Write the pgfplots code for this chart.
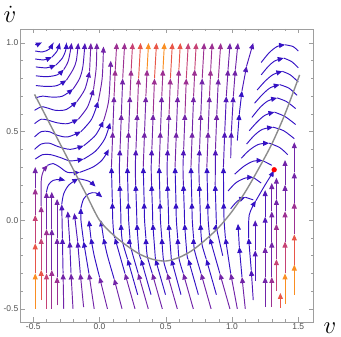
\documentclass[border=0pt]{standalone}
\usepackage{fontspec}
\setmainfont{Liberation Sans}
\usepackage{pgfplots}
\pgfplotsset{compat=1.18}
\usetikzlibrary{arrows.meta}

% speed colours, slow -> fast
\definecolor{sA}{RGB}{52,18,196}
\definecolor{sB}{RGB}{80,24,186}
\definecolor{sC}{RGB}{114,36,168}
\definecolor{sD}{RGB}{156,48,146}
\definecolor{sE}{RGB}{198,66,116}
\definecolor{sF}{RGB}{232,86,72}
\definecolor{sG}{RGB}{250,142,34}

% every streamline piece ends in an arrow head; "sn" pieces have none
\pgfplotsset{
  sl/.style={line width=0.95pt, smooth, -{Triangle[length=6pt,width=5pt]}},
  sn/.style={line width=0.95pt, smooth},
}

\begin{document}
\begin{tikzpicture}
\begin{axis}[
  scale only axis, width=293bp, height=293bp,
  xmin=-0.6, xmax=1.611, ymin=-0.574, ymax=1.079,
  xtick={-0.5,0,0.5,1,1.5}, xticklabels={-0.5,0.0,0.5,1.0,1.5},
  ytick={-0.5,0,0.5,1}, yticklabels={-0.5,0.0,0.5,1.0},
  minor tick num=4,
  tick align=inside,
  major tick length=4.5bp, minor tick length=2.5bp,
  axis line style={black!38, line width=0.6pt},
  every tick/.style={black!38, line width=0.5pt},
  tick label style={font=\fontsize{8.5bp}{10bp}\selectfont, text=black!68},
  xticklabel style={inner sep=1.5pt},
  yticklabel style={inner sep=1.5pt},
]

% ---- top-left fan
\addplot[sl,sA] coordinates {(-0.485,0.99)(-0.46,0.995)(-0.435,1.003)};
\addplot[sl,sA] coordinates {(-0.485,0.955)(-0.43,0.95)(-0.38,0.965)(-0.35,1.0)};
\addplot[sl,sA] coordinates {(-0.485,0.91)(-0.42,0.905)(-0.36,0.92)};
\addplot[sl,sA] coordinates {(-0.36,0.92)(-0.32,0.955)(-0.30,1.0)};
\addplot[sl,sA] coordinates {(-0.48,0.865)(-0.40,0.86)(-0.33,0.875)};
\addplot[sl,sA] coordinates {(-0.33,0.875)(-0.28,0.915)(-0.255,0.96)(-0.25,1.0)};
\addplot[sl,sA] coordinates {(-0.48,0.815)(-0.40,0.81)(-0.32,0.82)(-0.27,0.85)};
\addplot[sl,sB] coordinates {(-0.27,0.85)(-0.235,0.9)(-0.21,1.0)};
\addplot[sl,sA] coordinates {(-0.48,0.76)(-0.40,0.755)(-0.32,0.76)(-0.25,0.79)};
\addplot[sl,sB] coordinates {(-0.25,0.79)(-0.20,0.85)(-0.175,0.9)(-0.16,1.0)};
\addplot[sl,sA] coordinates {(-0.485,0.69)(-0.43,0.70)(-0.36,0.695)(-0.28,0.70)(-0.20,0.74)};
\addplot[sl,sB] coordinates {(-0.20,0.74)(-0.15,0.80)(-0.125,0.87)(-0.11,1.0)};
\addplot[sl,sA] coordinates {(-0.49,0.62)(-0.44,0.64)(-0.40,0.635)(-0.33,0.62)(-0.25,0.625)(-0.17,0.67)};
\addplot[sl,sB] coordinates {(-0.17,0.67)(-0.11,0.74)(-0.075,0.84)};
\addplot[sl,sC] coordinates {(-0.075,0.84)(-0.065,1.0)};
\addplot[sl,sA] coordinates {(-0.49,0.545)(-0.44,0.57)(-0.39,0.565)(-0.32,0.55)(-0.24,0.545)(-0.16,0.57)};
\addplot[sl,sB] coordinates {(-0.16,0.57)(-0.09,0.64)(-0.045,0.74)};
\addplot[sl,sC] coordinates {(-0.045,0.74)(-0.025,0.86)(-0.02,1.0)};
\addplot[sl,sA] coordinates {(-0.49,0.47)(-0.44,0.50)(-0.38,0.50)(-0.32,0.48)(-0.24,0.47)(-0.14,0.50)};
\addplot[sl,sA] coordinates {(-0.14,0.50)(-0.06,0.57)(-0.01,0.67)};
\addplot[sl,sC] coordinates {(-0.01,0.67)(0.02,0.80)(0.03,0.98)};
\addplot[sl,sA] coordinates {(-0.49,0.40)(-0.44,0.43)(-0.38,0.435)(-0.31,0.415)(-0.22,0.40)(-0.12,0.42)};
\addplot[sl,sA] coordinates {(-0.12,0.42)(-0.03,0.48)(0.03,0.56)};
\addplot[sl,sC] coordinates {(0.03,0.56)(0.07,0.68)(0.085,0.90)};
\addplot[sl,sA] coordinates {(-0.485,0.345)(-0.43,0.37)(-0.37,0.37)(-0.30,0.355)(-0.22,0.335)(-0.12,0.345)};
\addplot[sl,sA] coordinates {(-0.12,0.345)(-0.03,0.39)(0.04,0.46)(0.08,0.55)};

% ---- left vertical lines and their arcs
\addplot[sl,sG] coordinates {(-0.485,-0.5)(-0.485,-0.3)};
\addplot[sl,sF] coordinates {(-0.485,-0.3)(-0.485,-0.13)};
\addplot[sl,sE] coordinates {(-0.485,-0.13)(-0.485,0.03)};
\addplot[sl,sD] coordinates {(-0.485,0.03)(-0.485,0.18)};
\addplot[sl,sC] coordinates {(-0.485,0.18)(-0.485,0.30)};
\addplot[sl,sF] coordinates {(-0.44,-0.45)(-0.44,-0.28)};
\addplot[sl,sE] coordinates {(-0.44,-0.28)(-0.44,-0.1)};
\addplot[sl,sD] coordinates {(-0.44,-0.1)(-0.44,0.08)};
\addplot[sl,sC] coordinates {(-0.44,0.08)(-0.44,0.22)(-0.425,0.275)(-0.39,0.31)};
\addplot[sl,sA] coordinates {(-0.39,0.31)(-0.35,0.32)(-0.30,0.30)(-0.24,0.27)(-0.15,0.27)};
\addplot[sl,sA] coordinates {(-0.15,0.27)(-0.05,0.30)(0.02,0.34)(0.07,0.40)};
\addplot[sl,sE] coordinates {(-0.40,-0.5)(-0.40,-0.3)};
\addplot[sl,sD] coordinates {(-0.40,-0.3)(-0.40,-0.05)};
\addplot[sl,sC] coordinates {(-0.40,-0.05)(-0.40,0.16)};
\addplot[sl,sA] coordinates {(-0.40,0.16)(-0.385,0.2)(-0.35,0.225)(-0.30,0.23)(-0.26,0.225)};
\addplot[sl,sD] coordinates {(-0.36,-0.5)(-0.36,-0.28)};
\addplot[sl,sC] coordinates {(-0.36,-0.28)(-0.36,-0.05)};
\addplot[sl,sC] coordinates {(-0.36,-0.05)(-0.36,0.16)};
\addplot[sl,sD] coordinates {(-0.32,-0.48)(-0.32,-0.32)};
\addplot[sl,sC] coordinates {(-0.32,-0.32)(-0.32,-0.1)};
\addplot[sl,sC] coordinates {(-0.32,-0.1)(-0.32,0.12)};
\addplot[sl,sC] coordinates {(-0.27,-0.5)(-0.275,-0.3)};
\addplot[sl,sB] coordinates {(-0.275,-0.3)(-0.28,-0.1)};
\addplot[sl,sB] coordinates {(-0.28,-0.1)(-0.285,0.09)};
\addplot[sl,sA] coordinates {(-0.285,0.09)(-0.27,0.15)(-0.23,0.2)(-0.16,0.235)};
\addplot[sl,sA] coordinates {(-0.16,0.235)(-0.08,0.22)(-0.03,0.19)};
\addplot[sl,sC] coordinates {(-0.20,-0.5)(-0.215,-0.3)};
\addplot[sl,sB] coordinates {(-0.215,-0.3)(-0.225,-0.12)};
\addplot[sl,sB] coordinates {(-0.225,-0.12)(-0.24,0.05)};
\addplot[sl,sC] coordinates {(-0.12,-0.49)(-0.145,-0.3)};
\addplot[sl,sB] coordinates {(-0.145,-0.3)(-0.165,-0.12)};
\addplot[sl,sB] coordinates {(-0.165,-0.12)(-0.19,0.04)};
\addplot[sl,sC] coordinates {(-0.04,-0.5)(-0.08,-0.3)};
\addplot[sl,sA] coordinates {(-0.08,-0.3)(-0.12,-0.12)};
\addplot[sl,sA] coordinates {(-0.12,-0.12)(-0.14,0.0)(-0.14,0.07)};
\addplot[sl,sA] coordinates {(-0.14,0.07)(-0.12,0.12)(-0.08,0.15)(-0.03,0.155)(0.02,0.13)};
\addplot[sl,sC] coordinates {(0.06,-0.5)(0.0,-0.32)};
\addplot[sl,sA] coordinates {(0.0,-0.32)(-0.04,-0.2)(-0.065,-0.1)};
\addplot[sl,sA] coordinates {(-0.065,-0.1)(-0.08,0.0)};
\addplot[sl,sC] coordinates {(0.17,-0.5)(0.11,-0.33)};
\addplot[sl,sA] coordinates {(0.11,-0.33)(0.06,-0.2)(0.03,-0.1)};
\addplot[sl,sA] coordinates {(0.03,-0.1)(0.01,0.0)};

% ---- middle lines, full height
\addplot[sl,sC] coordinates {(0.268,-0.5)(0.192,-0.3)};
\addplot[sl,sA] coordinates {(0.192,-0.3)(0.116,-0.1)};
\addplot[sl,sA] coordinates {(0.116,-0.1)(0.108,-0.08)(0.10,0)(0.097,0.1)};
\addplot[sl,sA] coordinates {(0.097,0.1)(0.09,0.3)};
\addplot[sl,sC] coordinates {(0.09,0.3)(0.10,0.5)};
\addplot[sl,sC] coordinates {(0.10,0.5)(0.11,0.7)};
\addplot[sl,sD] coordinates {(0.11,0.7)(0.119,0.85)};
\addplot[sl,sD] coordinates {(0.119,0.85)(0.13,1.0)};

\addplot[sl,sC] coordinates {(0.368,-0.5)(0.292,-0.3)};
\addplot[sl,sA] coordinates {(0.292,-0.3)(0.235,-0.15)(0.23,-0.1)};
\addplot[sl,sA] coordinates {(0.23,-0.1)(0.22,0)(0.217,0.1)};
\addplot[sl,sA] coordinates {(0.217,0.1)(0.21,0.3)};
\addplot[sl,sC] coordinates {(0.21,0.3)(0.22,0.5)};
\addplot[sl,sC] coordinates {(0.22,0.5)(0.23,0.7)};
\addplot[sl,sD] coordinates {(0.23,0.7)(0.239,0.85)};
\addplot[sl,sE] coordinates {(0.239,0.85)(0.25,1.0)};

\addplot[sl,sC] coordinates {(0.474,-0.5)(0.398,-0.3)};
\addplot[sl,sA] coordinates {(0.398,-0.3)(0.36,-0.2)(0.35,-0.1)};
\addplot[sl,sA] coordinates {(0.35,-0.1)(0.34,0)(0.337,0.1)};
\addplot[sl,sA] coordinates {(0.337,0.1)(0.33,0.3)};
\addplot[sl,sC] coordinates {(0.33,0.3)(0.34,0.5)};
\addplot[sl,sC] coordinates {(0.34,0.5)(0.35,0.7)};
\addplot[sl,sD] coordinates {(0.35,0.7)(0.359,0.85)};
\addplot[sl,sG] coordinates {(0.359,0.85)(0.37,1.0)};

\addplot[sl,sC] coordinates {(0.587,-0.5)(0.511,-0.3)};
\addplot[sl,sA] coordinates {(0.511,-0.3)(0.483,-0.226)(0.47,-0.1)};
\addplot[sl,sA] coordinates {(0.47,-0.1)(0.46,0)(0.457,0.1)};
\addplot[sl,sA] coordinates {(0.457,0.1)(0.45,0.3)};
\addplot[sl,sC] coordinates {(0.45,0.3)(0.46,0.5)};
\addplot[sl,sC] coordinates {(0.46,0.5)(0.47,0.7)};
\addplot[sl,sD] coordinates {(0.47,0.7)(0.479,0.85)};
\addplot[sl,sG] coordinates {(0.479,0.85)(0.49,1.0)};

\addplot[sl,sC] coordinates {(0.708,-0.5)(0.632,-0.3)};
\addplot[sl,sA] coordinates {(0.632,-0.3)(0.60,-0.215)(0.59,-0.1)};
\addplot[sl,sA] coordinates {(0.59,-0.1)(0.58,0)(0.577,0.1)};
\addplot[sl,sA] coordinates {(0.577,0.1)(0.57,0.3)};
\addplot[sl,sC] coordinates {(0.57,0.3)(0.58,0.5)};
\addplot[sl,sC] coordinates {(0.58,0.5)(0.59,0.7)};
\addplot[sl,sD] coordinates {(0.59,0.7)(0.599,0.85)};
\addplot[sl,sF] coordinates {(0.599,0.85)(0.61,1.0)};

\addplot[sl,sC] coordinates {(0.842,-0.5)(0.766,-0.3)};
\addplot[sl,sA] coordinates {(0.766,-0.3)(0.717,-0.17)(0.71,-0.1)};
\addplot[sl,sA] coordinates {(0.71,-0.1)(0.70,0)(0.697,0.1)};
\addplot[sl,sA] coordinates {(0.697,0.1)(0.69,0.3)};
\addplot[sl,sC] coordinates {(0.69,0.3)(0.70,0.5)};
\addplot[sl,sC] coordinates {(0.70,0.5)(0.71,0.7)};
\addplot[sl,sD] coordinates {(0.71,0.7)(0.719,0.85)};
\addplot[sl,sE] coordinates {(0.719,0.85)(0.73,1.0)};

\addplot[sl,sC] coordinates {(0.984,-0.5)(0.908,-0.3)};
\addplot[sl,sA] coordinates {(0.908,-0.3)(0.832,-0.1)};
\addplot[sl,sA] coordinates {(0.832,-0.1)(0.82,0)(0.817,0.1)};
\addplot[sl,sA] coordinates {(0.817,0.1)(0.81,0.3)};
\addplot[sl,sC] coordinates {(0.81,0.3)(0.82,0.5)};
\addplot[sl,sC] coordinates {(0.82,0.5)(0.83,0.7)};
\addplot[sl,sD] coordinates {(0.83,0.7)(0.839,0.85)};
\addplot[sl,sD] coordinates {(0.839,0.85)(0.85,1.0)};

\addplot[sl,sC] coordinates {(1.04,-0.5)(0.99,-0.3)};
\addplot[sl,sA] coordinates {(0.99,-0.3)(0.95,-0.1)};
\addplot[sl,sA] coordinates {(0.95,-0.1)(0.94,0)(0.937,0.1)};
\addplot[sl,sA] coordinates {(0.937,0.1)(0.935,0.3)};
\addplot[sl,sB] coordinates {(0.935,0.3)(0.945,0.5)};
\addplot[sl,sB] coordinates {(0.945,0.5)(0.957,0.7)};
\addplot[sl,sC] coordinates {(0.957,0.7)(0.97,0.85)};
\addplot[sl,sC] coordinates {(0.97,0.85)(0.985,1.0)};

% ---- middle lines, starting near the curve
\addplot[sl,sA] coordinates {(0.288,-0.42)(0.212,-0.22)};
\addplot[sl,sA] coordinates {(0.212,-0.22)(0.172,-0.116)(0.162,-0.02)};
\addplot[sl,sA] coordinates {(0.162,-0.02)(0.16,0.05)(0.153,0.2)};
\addplot[sl,sB] coordinates {(0.153,0.2)(0.15,0.3)(0.155,0.4)};
\addplot[sl,sC] coordinates {(0.155,0.4)(0.165,0.6)};
\addplot[sl,sC] coordinates {(0.165,0.6)(0.175,0.8)};
\addplot[sl,sD] coordinates {(0.175,0.8)(0.19,1.0)};

\addplot[sl,sA] coordinates {(0.389,-0.42)(0.313,-0.22)};
\addplot[sl,sA] coordinates {(0.313,-0.22)(0.298,-0.18)(0.282,-0.02)};
\addplot[sl,sA] coordinates {(0.282,-0.02)(0.28,0.05)(0.273,0.2)};
\addplot[sl,sB] coordinates {(0.273,0.2)(0.27,0.3)(0.275,0.4)};
\addplot[sl,sC] coordinates {(0.275,0.4)(0.285,0.6)};
\addplot[sl,sD] coordinates {(0.285,0.6)(0.295,0.8)};
\addplot[sl,sF] coordinates {(0.295,0.8)(0.31,1.0)};

\addplot[sl,sA] coordinates {(0.498,-0.42)(0.422,-0.22)};
\addplot[sl,sA] coordinates {(0.422,-0.22)(0.402,-0.02)};
\addplot[sl,sA] coordinates {(0.402,-0.02)(0.40,0.05)(0.393,0.2)};
\addplot[sl,sB] coordinates {(0.393,0.2)(0.39,0.3)(0.395,0.4)};
\addplot[sl,sC] coordinates {(0.395,0.4)(0.405,0.6)};
\addplot[sl,sD] coordinates {(0.405,0.6)(0.415,0.8)};
\addplot[sl,sF] coordinates {(0.415,0.8)(0.43,1.0)};

\addplot[sl,sA] coordinates {(0.615,-0.42)(0.542,-0.22)};
\addplot[sl,sA] coordinates {(0.542,-0.22)(0.522,-0.02)};
\addplot[sl,sA] coordinates {(0.522,-0.02)(0.52,0.05)(0.513,0.2)};
\addplot[sl,sB] coordinates {(0.513,0.2)(0.51,0.3)(0.515,0.4)};
\addplot[sl,sC] coordinates {(0.515,0.4)(0.525,0.6)};
\addplot[sl,sD] coordinates {(0.525,0.6)(0.535,0.8)};
\addplot[sl,sF] coordinates {(0.535,0.8)(0.55,1.0)};

\addplot[sl,sA] coordinates {(0.746,-0.42)(0.67,-0.22)};
\addplot[sl,sA] coordinates {(0.67,-0.22)(0.66,-0.195)(0.642,-0.02)};
\addplot[sl,sA] coordinates {(0.642,-0.02)(0.64,0.05)(0.633,0.2)};
\addplot[sl,sB] coordinates {(0.633,0.2)(0.63,0.3)(0.635,0.4)};
\addplot[sl,sC] coordinates {(0.635,0.4)(0.645,0.6)};
\addplot[sl,sD] coordinates {(0.645,0.6)(0.655,0.8)};
\addplot[sl,sE] coordinates {(0.655,0.8)(0.67,1.0)};

\addplot[sl,sA] coordinates {(0.882,-0.42)(0.806,-0.22)};
\addplot[sl,sA] coordinates {(0.806,-0.22)(0.773,-0.134)(0.762,-0.02)};
\addplot[sl,sA] coordinates {(0.762,-0.02)(0.76,0.05)(0.753,0.2)};
\addplot[sl,sB] coordinates {(0.753,0.2)(0.75,0.3)(0.755,0.4)};
\addplot[sl,sC] coordinates {(0.755,0.4)(0.765,0.6)};
\addplot[sl,sC] coordinates {(0.765,0.6)(0.775,0.8)};
\addplot[sl,sD] coordinates {(0.775,0.8)(0.79,1.0)};

\addplot[sl,sA] coordinates {(0.93,-0.2)(0.886,-0.055)(0.882,-0.02)};
\addplot[sl,sA] coordinates {(0.882,-0.02)(0.873,0.2)};
\addplot[sl,sB] coordinates {(0.873,0.2)(0.875,0.4)};
\addplot[sl,sC] coordinates {(0.875,0.4)(0.885,0.6)};
\addplot[sl,sC] coordinates {(0.885,0.6)(0.897,0.8)};
\addplot[sl,sD] coordinates {(0.897,0.8)(0.915,1.0)};

% ---- right of the middle
\addplot[sl,sC] coordinates {(1.10,-0.5)(1.075,-0.32)};
\addplot[sl,sA] coordinates {(1.075,-0.32)(1.055,-0.15)};
\addplot[sl,sA] coordinates {(1.055,-0.15)(1.045,-0.02)};
\addplot[sl,sB] coordinates {(1.16,-0.45)(1.145,-0.28)};
\addplot[sl,sA] coordinates {(1.145,-0.28)(1.125,-0.1)};
\addplot[sl,sA] coordinates {(1.125,-0.1)(1.13,0.03)(1.18,0.11)};
\addplot[sl,sA] coordinates {(1.18,0.11)(1.25,0.2)(1.30,0.26)(1.315,0.28)};
\addplot[sl,sB] coordinates {(0.99,0.35)(0.995,0.5)};
\addplot[sl,sB] coordinates {(0.995,0.5)(1.01,0.7)};
\addplot[sl,sC] coordinates {(1.01,0.7)(1.025,0.85)};
\addplot[sl,sC] coordinates {(1.025,0.85)(1.045,1.0)};
\addplot[sl,sA] coordinates {(1.04,0.45)(1.055,0.6)};
\addplot[sl,sA] coordinates {(1.055,0.6)(1.075,0.73)};
\addplot[sl,sB] coordinates {(1.075,0.73)(1.11,0.87)};
\addplot[sl,sB] coordinates {(1.11,0.87)(1.16,1.0)};

% ---- arcs above the right arm
\addplot[sl,sA] coordinates {(1.22,0.89)(1.28,0.945)(1.34,0.98)(1.40,0.99)};
\addplot[sn,sA] coordinates {(1.40,0.99)(1.46,0.98)(1.50,0.955)};
\addplot[sl,sA] coordinates {(1.22,0.82)(1.27,0.865)(1.32,0.898)(1.39,0.915)};
\addplot[sn,sA] coordinates {(1.39,0.915)(1.45,0.895)(1.50,0.86)};
\addplot[sl,sA] coordinates {(1.19,0.735)(1.25,0.785)(1.31,0.822)(1.38,0.84)};
\addplot[sn,sA] coordinates {(1.38,0.84)(1.44,0.82)(1.50,0.78)};
\addplot[sl,sA] coordinates {(1.17,0.66)(1.23,0.71)(1.29,0.748)(1.36,0.765)};
\addplot[sn,sA] coordinates {(1.36,0.765)(1.43,0.745)(1.49,0.705)};
\addplot[sl,sA] coordinates {(1.15,0.58)(1.21,0.635)(1.27,0.673)(1.34,0.69)};
\addplot[sn,sA] coordinates {(1.34,0.69)(1.41,0.67)(1.48,0.63)};
\addplot[sl,sA] coordinates {(1.13,0.505)(1.19,0.555)(1.25,0.593)(1.32,0.61)};
\addplot[sn,sA] coordinates {(1.32,0.61)(1.40,0.585)(1.48,0.54)};
\addplot[sl,sA] coordinates {(1.11,0.43)(1.17,0.48)(1.23,0.513)(1.31,0.525)};
\addplot[sn,sA] coordinates {(1.31,0.525)(1.39,0.505)(1.47,0.46)};
\addplot[sl,sA] coordinates {(1.07,0.35)(1.13,0.395)(1.20,0.428)(1.28,0.435)};
\addplot[sn,sA] coordinates {(1.28,0.435)(1.36,0.41)(1.42,0.37)};
\addplot[sl,sA] coordinates {(1.02,0.26)(1.09,0.305)(1.16,0.333)(1.23,0.337)};
\addplot[sn,sA] coordinates {(1.23,0.337)(1.30,0.31)};
\addplot[sl,sA] coordinates {(0.97,0.165)(1.03,0.212)(1.10,0.238)(1.16,0.242)};
\addplot[sn,sA] coordinates {(1.16,0.242)(1.22,0.21)};
\addplot[sl,sA] coordinates {(0.99,0.065)(1.04,0.108)(1.10,0.13)};
\addplot[sn,sA] coordinates {(1.10,0.13)(1.16,0.115)};

% ---- right vertical lines
\addplot[sl,sB] coordinates {(1.175,-0.34)(1.175,-0.17)};
\addplot[sl,sB] coordinates {(1.175,-0.17)(1.175,0.0)};
\addplot[sl,sC] coordinates {(1.25,-0.49)(1.25,-0.32)};
\addplot[sl,sC] coordinates {(1.25,-0.32)(1.25,-0.15)};
\addplot[sl,sB] coordinates {(1.25,-0.15)(1.25,0.02)};
\addplot[sl,sB] coordinates {(1.25,0.02)(1.25,0.17)};
\addplot[sl,sD] coordinates {(1.30,-0.49)(1.30,-0.32)};
\addplot[sl,sC] coordinates {(1.30,-0.32)(1.30,-0.12)};
\addplot[sl,sC] coordinates {(1.30,-0.12)(1.30,0.05)};
\addplot[sl,sC] coordinates {(1.30,0.05)(1.30,0.21)};
\addplot[sl,sE] coordinates {(1.335,-0.40)(1.335,-0.22)};
\addplot[sl,sD] coordinates {(1.335,-0.22)(1.335,-0.02)};
\addplot[sl,sC] coordinates {(1.335,-0.02)(1.335,0.12)};
\addplot[sl,sC] coordinates {(1.335,0.12)(1.335,0.24)};
\addplot[sl,sF] coordinates {(1.365,-0.49)(1.365,-0.41)};
\addplot[sl,sG] coordinates {(1.40,-0.47)(1.40,-0.3)};
\addplot[sl,sE] coordinates {(1.40,-0.3)(1.40,-0.12)};
\addplot[sl,sD] coordinates {(1.40,-0.12)(1.40,0.05)};
\addplot[sl,sC] coordinates {(1.40,0.05)(1.40,0.2)};
\addplot[sl,sC] coordinates {(1.40,0.2)(1.40,0.34)};
\addplot[sl,sG] coordinates {(1.47,-0.42)(1.47,-0.25)};
\addplot[sl,sF] coordinates {(1.47,-0.25)(1.47,-0.08)};
\addplot[sl,sD] coordinates {(1.47,-0.08)(1.47,0.1)};
\addplot[sl,sC] coordinates {(1.47,0.1)(1.47,0.27)};
\addplot[sl,sC] coordinates {(1.47,0.27)(1.47,0.44)};

% ---- grey curve and red point
\addplot[black!45, line width=1.4pt, smooth] coordinates {
  (-0.49,0.71)(-0.4,0.58)(-0.3,0.435)(-0.2,0.29)(-0.1,0.145)(0,0.0)
  (0.1,-0.08)(0.2,-0.14)(0.3,-0.19)(0.4,-0.22)(0.5,-0.23)(0.6,-0.21)
  (0.7,-0.17)(0.8,-0.11)(0.9,-0.04)(1.0,0.05)(1.1,0.16)(1.2,0.29)
  (1.3,0.43)(1.4,0.6)(1.51,0.82)};
\addplot[only marks, mark=*, mark size=2.4pt, red] coordinates {(1.318,0.285)};
\end{axis}
\node[anchor=base, font=\Huge, inner sep=0pt] at (-10bp,299bp) {$\dot{v}$};
\node[anchor=base, font=\Huge, inner sep=0pt] at (310bp,-11bp) {$v$};
\pgfresetboundingbox
\path (-20bp,-15bp) rectangle (321bp,322bp);
\end{tikzpicture}
\end{document}
